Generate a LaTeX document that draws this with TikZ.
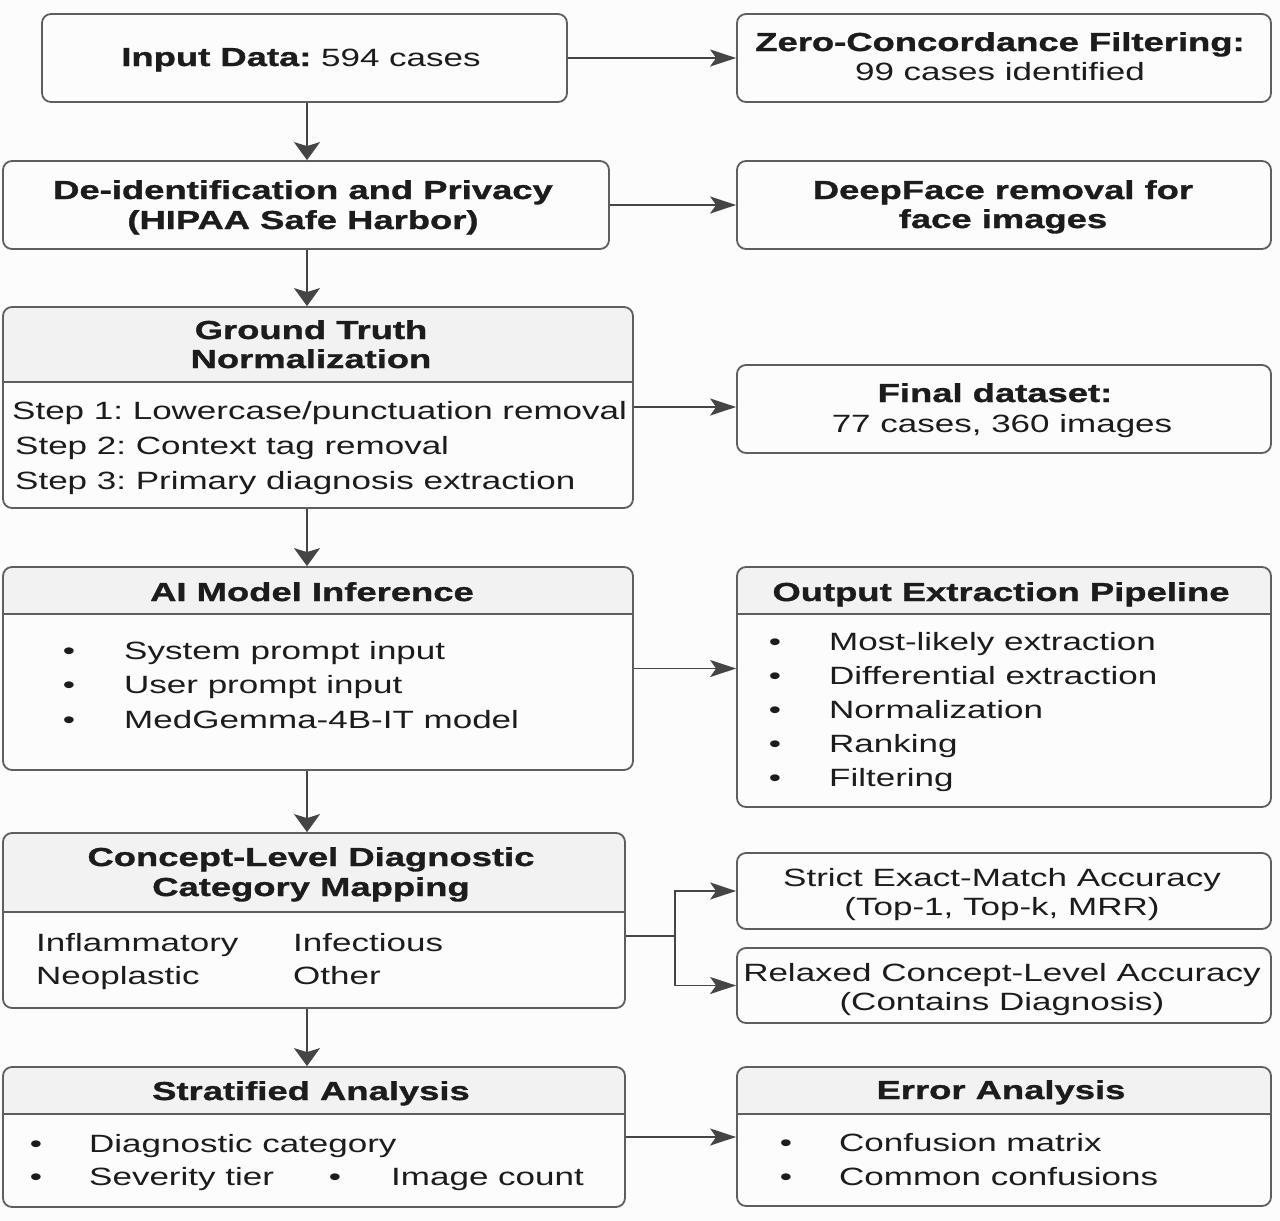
\documentclass[tikz,border=0pt]{standalone}
\usepackage{fontspec}
\setmainfont{Liberation Sans}[FakeStretch=1.40,BoldFeatures={FakeBold=1.2}]
\frenchspacing
\usetikzlibrary{arrows.meta}
\definecolor{boxcol}{HTML}{5E5E5E}
\definecolor{arrcol}{HTML}{454545}
\definecolor{hdrcol}{HTML}{F2F2F2}
\definecolor{txtcol}{HTML}{1C1C1C}
\definecolor{bgcol}{HTML}{FCFCFC}
\newcommand\hdrfill[4]{\fill[hdrcol] (#1,#4) [rounded corners=9pt] -- (#1,#2) -- (#3,#2) [sharp corners] -- (#3,#4) -- cycle;}
\newcommand\bfs{\fontsize{26pt}{30pt}\selectfont\bfseries}
\begin{document}
\frenchspacing
\begin{tikzpicture}[x=1pt,y=-1pt,
 box/.style={draw=boxcol,line width=1.8pt,rounded corners=9pt,rectangle,inner sep=0pt},
 rt/.style={inner sep=0pt,anchor=base,text=txtcol,font=\fontsize{25pt}{30pt}\selectfont},
 bt/.style={rt,font=\bfs},
 lt/.style={rt,anchor=base west},
 varr/.style={draw=arrcol,line width=1.8pt,-{Stealth[length=18pt,width=26pt,inset=4pt]}},
 harr/.style={draw=arrcol,line width=1.6pt,-{Stealth[length=26pt,width=17pt,inset=6pt]}},
 plainln/.style={draw=arrcol,line width=1.6pt},
 divl/.style={draw=boxcol,line width=1.8pt}]
\fill[bgcol] (0,0) rectangle (1280,1221);
\useasboundingbox (0,0) rectangle (1280,1221);

% header fills
\hdrfill{3}{307}{633}{382}
\hdrfill{3}{567}{633}{614}
\hdrfill{737}{567}{1271}{614}
\hdrfill{3}{833}{625}{912}
\hdrfill{3}{1067}{625}{1114}
\hdrfill{737}{1067}{1271}{1114}

% boxes
\node[box,minimum width=525pt,minimum height=88pt] (input) at (304.5,58) {};
\node[box,minimum width=534pt,minimum height=88pt] (zero) at (1004,58) {};
\node[box,minimum width=606pt,minimum height=88pt] (deid) at (306,205) {};
\node[box,minimum width=534pt,minimum height=88pt] (deepface) at (1004,205) {};
\node[box,minimum width=630pt,minimum height=201pt] (gt) at (318,407.5) {};
\node[box,minimum width=534pt,minimum height=88pt] (final) at (1004,409) {};
\node[box,minimum width=630pt,minimum height=203pt] (ai) at (318,668.5) {};
\node[box,minimum width=534pt,minimum height=240pt] (output) at (1004,687) {};
\node[box,minimum width=622pt,minimum height=175pt] (concept) at (314,920.5) {};
\node[box,minimum width=534pt,minimum height=76pt] (strict) at (1004,891) {};
\node[box,minimum width=534pt,minimum height=75pt] (relaxed) at (1004,985.5) {};
\node[box,minimum width=622pt,minimum height=140pt] (strat) at (314,1137) {};
\node[box,minimum width=534pt,minimum height=139pt] (error) at (1004,1136.5) {};

% dividers
\draw[divl] (gt.west |- 0,382) -- (gt.east |- 0,382);
\draw[divl] (ai.west |- 0,614) -- (ai.east |- 0,614);
\draw[divl] (output.west |- 0,614) -- (output.east |- 0,614);
\draw[divl] (concept.west |- 0,912) -- (concept.east |- 0,912);
\draw[divl] (strat.west |- 0,1114) -- (strat.east |- 0,1114);
\draw[divl] (error.west |- 0,1114) -- (error.east |- 0,1114);

% texts
\node[rt] (tinput) at (301,66) {{\bfs Input Data:} 594 cases};
\node[bt] (tzero1) at (1000,51) {Zero-Concordance Filtering:};
\node[rt] (tzero2) at (1000,80) {99 cases identified};
\node[bt] (tdeid1) at (303,199) {De-identification and Privacy};
\node[bt] (tdeid2) at (303,229) {(HIPAA Safe Harbor)};
\node[bt] (tdf1) at (1003,199) {DeepFace removal for};
\node[bt] (tdf2) at (1003,228) {face images};
\node[bt] (tgt1) at (311,339) {Ground Truth};
\node[bt] (tgt2) at (311,368) {Normalization};
\node[lt] (tstep1) at (12,419) {Step 1: Lowercase/punctuation removal};
\node[lt] (tstep2) at (15,454) {Step 2: Context tag removal};
\node[lt] (tstep3) at (15,489) {Step 3: Primary diagnosis extraction};
\node[bt] (tfin1) at (995,402) {Final dataset:};
\node[rt] (tfin2) at (1002,432) {77 cases, 360 images};

\node[bt] (tai) at (312,601) {AI Model Inference};
\node[rt] (bai1) at (69,659) {•};
\node[rt] (bai2) at (69,693) {•};
\node[rt] (bai3) at (69,728) {•};
\node[lt] (tai1) at (124,659) {System prompt input};
\node[lt] (tai2) at (124,693) {User prompt input};
\node[lt] (tai3) at (124,728) {MedGemma-4B-IT model};

\node[bt] (tout) at (1001,601) {Output Extraction Pipeline};
\node[rt] (bo1) at (775,650) {•};
\node[rt] (bo2) at (775,684) {•};
\node[rt] (bo3) at (775,718) {•};
\node[rt] (bo4) at (775,752) {•};
\node[rt] (bo5) at (775,786) {•};
\node[lt] (to1) at (829,650) {Most-likely extraction};
\node[lt] (to2) at (829,684) {Differential extraction};
\node[lt] (to3) at (829,718) {Normalization};
\node[lt] (to4) at (829,752) {Ranking};
\node[lt] (to5) at (829,786) {Filtering};

\node[bt] (tc1) at (311,866) {Concept-Level Diagnostic};
\node[bt] (tc2) at (311,896) {Category Mapping};
\node[lt] (tci1) at (36,951) {Inflammatory};
\node[lt] (tci2) at (293,951) {Infectious};
\node[lt] (tci3) at (36,984) {Neoplastic};
\node[lt] (tci4) at (293,984) {Other};

\node[rt] (ts1) at (1002,886) {Strict Exact-Match Accuracy};
\node[rt] (ts2) at (1002,915) {(Top-1, Top-k, MRR)};
\node[rt] (tr1) at (1002,981) {Relaxed Concept-Level Accuracy};
\node[rt] (tr2) at (1002,1010) {(Contains Diagnosis)};

\node[bt] (tsa) at (311,1100) {Stratified Analysis};
\node[rt] (bs1) at (36,1152) {•};
\node[rt] (bs2) at (36,1185) {•};
\node[rt] (bs3) at (335,1185) {•};
\node[lt] (tsa1) at (89,1152) {Diagnostic category};
\node[lt] (tsa2) at (89,1185) {Severity tier};
\node[lt] (tsa3) at (391,1185) {Image count};

\node[bt] (tea) at (1001,1099) {Error Analysis};
\node[rt] (be1) at (786,1151) {•};
\node[rt] (be2) at (786,1185) {•};
\node[lt] (tea1) at (839,1151) {Confusion matrix};
\node[lt] (tea2) at (839,1185) {Common confusions};

% connectors
\coordinate (colx) at (307,0);
\draw[varr] (input.south -| colx) -- (deid.north -| colx);
\draw[varr] (deid.south -| colx) -- (gt.north -| colx);
\draw[varr] (gt.south -| colx) -- (ai.north -| colx);
\draw[varr] (ai.south -| colx) -- (concept.north -| colx);
\draw[varr] (concept.south -| colx) -- (strat.north -| colx);

\draw[harr] (input.east) -- (input.east -| zero.west);
\draw[harr] (deid.east) -- (deid.east -| deepface.west);
\coordinate (gty) at (0,407);
\draw[harr] (gt.east |- gty) -- (final.west |- gty);
\draw[harr] (ai.east) -- (ai.east -| output.west);
\coordinate (br) at (675,936);
\draw[plainln] (concept.east |- br) -- (br);
\draw[harr] (br) |- (strict.west);
\draw[harr] (br) |- (relaxed.west);
\draw[harr] (strat.east) -- (strat.east -| error.west);
\end{tikzpicture}
\end{document}
